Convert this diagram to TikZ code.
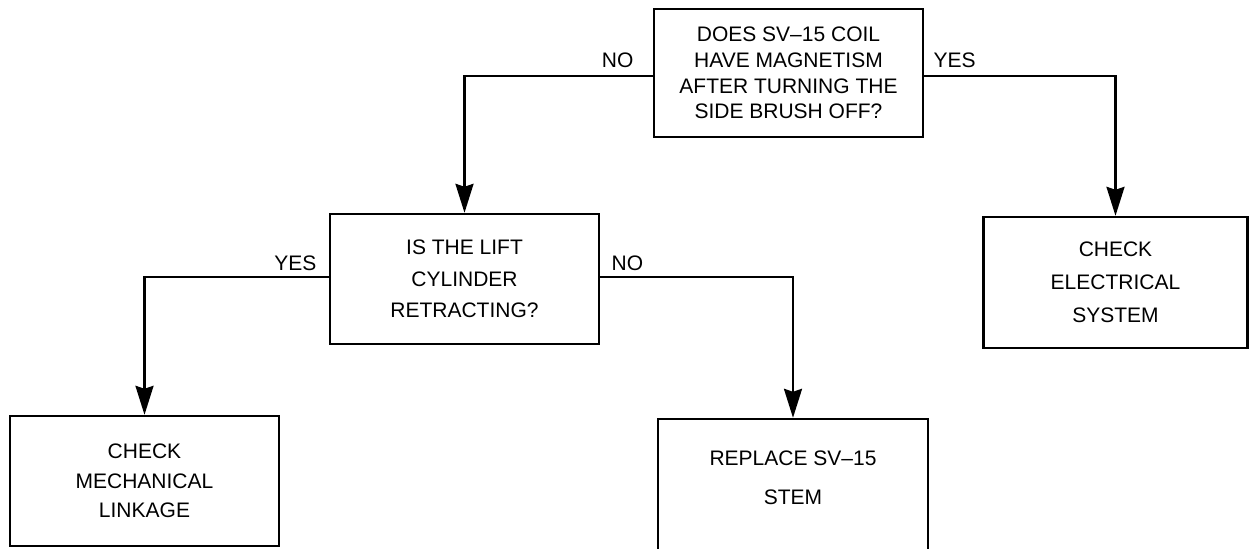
\documentclass[tikz,border=0pt]{standalone}
\usepackage{fontspec}
\setmainfont{Liberation Sans}
\usetikzlibrary{positioning,arrows.meta}

\begin{document}
\begin{tikzpicture}[x=0.5pt,y=-0.5pt,
        box/.style={draw,line width=1.2pt,align=center,inner sep=0pt},
        lbl/.style={inner sep=0pt,font=\fontsize{10.5}{12}\selectfont},
        arr/.style={line width=1.2pt,-{Stealth[length=14.5pt,width=9pt,inset=1.5pt]}}]
        \useasboundingbox (0,0) rectangle (1249,548);
        \clip (0,0) rectangle (1249,548);
        \node[box,minimum width=134.5pt,minimum height=64pt,font=\fontsize{10.5}{12.85}\selectfont] (q1) at (788.5,73) {DOES SV–15 COIL\\HAVE MAGNETISM\\AFTER TURNING THE\\SIDE BRUSH OFF?};
        \node[box,minimum width=134.5pt,minimum height=65pt,font=\fontsize{10.5}{15.75}\selectfont] (q2) at (464.5,279) {IS THE LIFT\\CYLINDER\\RETRACTING?};
        \node[box,minimum width=132pt,minimum height=65.5pt,font=\fontsize{10.5}{16.5}\selectfont] (elec) at (1115.5,282.5) {CHECK\\ELECTRICAL\\SYSTEM};
        \node[box,minimum width=134.5pt,minimum height=65pt,font=\fontsize{10.5}{14.75}\selectfont] (mech) at (144.5,481) {CHECK\\MECHANICAL\\LINKAGE};
        \node[box,minimum width=135pt,minimum height=78pt,font=\fontsize{10.5}{19.5}\selectfont] (repl) at (793,497) {REPLACE SV–15\\STEM\\\mbox{}};
        \draw[arr] ([yshift=-1.5pt]q1.west) -| (q2.north);
        \draw[arr] ([yshift=-1.5pt]q1.east) -| (elec.north);
        \draw[arr] ([yshift=1pt]q2.west) -| (mech.north);
        \draw[arr] ([yshift=1pt]q2.east) -| (repl.north);
        \node[lbl,above left=2.5pt and 9.5pt of q1.west] (no1) {NO};
        \node[lbl,above right=2.5pt and 4.5pt of q1.east] (yes1) {YES};
        \node[lbl,above left=4pt and 6pt of q2.west] (yes2) {YES};
        \node[lbl,above right=4pt and 5.5pt of q2.east] (no2) {NO};
\end{tikzpicture}
\end{document}
